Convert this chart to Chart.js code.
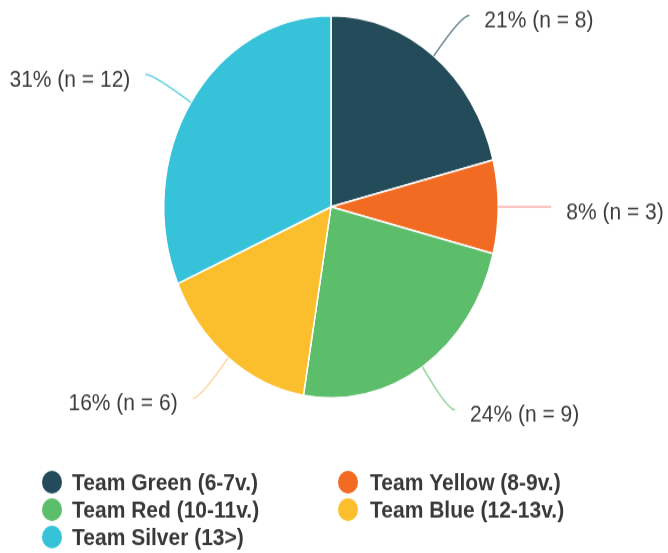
<!DOCTYPE html>
<html>
<head>
<meta charset="utf-8">
<script src="https://cdn.jsdelivr.net/npm/chart.js@4.4.1/dist/chart.umd.min.js"></script>
<style>
  html, body { margin: 0; padding: 0; background: #fff; }
  body { width: 668px; height: 553px; overflow: hidden; }
  /* the reference is stretched vertically, so draw at 668x484 and scale */
  #wrap { width: 668px; height: 484px; transform: scaleY(1.1426); transform-origin: 0 0; }
</style>
</head>
<body>
<div id="wrap"><canvas id="teamChart" width="668" height="484"></canvas></div>
<script>
// --- data ---
const teams = ['Team Green (6-7v.)', 'Team Yellow (8-9v.)', 'Team Red (10-11v.)', 'Team Blue (12-13v.)', 'Team Silver (13>)'];
const counts = [8, 3, 9, 6, 12];
const percents = [21, 8, 24, 16, 31];
const sliceColors = ['#234b5a', '#f26b22', '#5cbd6b', '#fbbf2e', '#36c2d8'];
const leaderColors = ['rgba(35,75,90,0.65)', 'rgba(242,120,110,0.6)', 'rgba(92,189,107,0.6)', 'rgba(251,191,110,0.6)', 'rgba(54,194,216,0.75)'];

Chart.defaults.font.family = "'Liberation Sans', Arial, sans-serif";

// ─── leader lines + "xx% (n = y)" labels ───
const leaderLabels = {
    id: 'leaderLabels',
    afterDatasetsDraw(chart) {
        const ctx = chart.ctx;
        const meta = chart.getDatasetMeta(0);
        ctx.save();
        meta.data.forEach((arc, i) => {
            const p = arc.getProps(['x', 'y', 'startAngle', 'endAngle', 'outerRadius'], true);
            const mid = (p.startAngle + p.endAngle) / 2;
            const cos = Math.cos(mid), sin = Math.sin(mid);
            const side = cos >= 0 ? 1 : -1;
            const ex = p.x + cos * p.outerRadius, ey = p.y + sin * p.outerRadius;
            const cx = ex + cos * 45, cy = ey + sin * 45;
            const tx = cx + side * 8, ty = cy;

            ctx.beginPath();
            ctx.moveTo(ex, ey);
            ctx.quadraticCurveTo(cx, cy, tx, ty);
            ctx.strokeStyle = leaderColors[i];
            ctx.lineWidth = 1.5;
            ctx.stroke();

            ctx.fillStyle = '#3c3c3c';
            ctx.font = "21px 'Liberation Sans', Arial, sans-serif";
            ctx.textBaseline = 'middle';
            ctx.textAlign = side > 0 ? 'left' : 'right';
            ctx.fillText(percents[i] + '% (n = ' + counts[i] + ')', tx + side * 15, ty + 5);
        });
        ctx.restore();
    }
};

// ─── two-column legend under the pie ───
const teamLegend = {
    id: 'teamLegend',
    afterDraw(chart) {
        const ctx = chart.ctx;
        const top = chart.chartArea.bottom + 73;
        const dotX = [52, 348];
        const textX = [72, 370];
        const rowH = 24;
        ctx.save();
        teams.forEach((name, i) => {
            const col = i % 2;
            const y = top + Math.floor(i / 2) * rowH;
            ctx.beginPath();
            ctx.arc(dotX[col], y, 10, 0, Math.PI * 2);
            ctx.fillStyle = sliceColors[i];
            ctx.fill();
            ctx.fillStyle = '#383838';
            ctx.font = "bold 21px 'Liberation Sans', Arial, sans-serif";
            ctx.textBaseline = 'middle';
            ctx.textAlign = 'left';
            ctx.fillText(name, textX[col], y + 1);
        });
        ctx.restore();
    }
};

new Chart(document.getElementById('teamChart'), {
    type: 'pie',
    data: {
        labels: teams,
        datasets: [{
            data: counts,
            backgroundColor: sliceColors,
            borderColor: '#fff',
            borderWidth: 1.5
        }]
    },
    options: {
        responsive: false,
        animation: false,
        layout: { padding: { top: 13, bottom: 135, left: 0, right: 6 } },
        plugins: {
            legend: { display: false },
            tooltip: { enabled: false }
        }
    },
    plugins: [leaderLabels, teamLegend]
});
</script>
</body>
</html>
